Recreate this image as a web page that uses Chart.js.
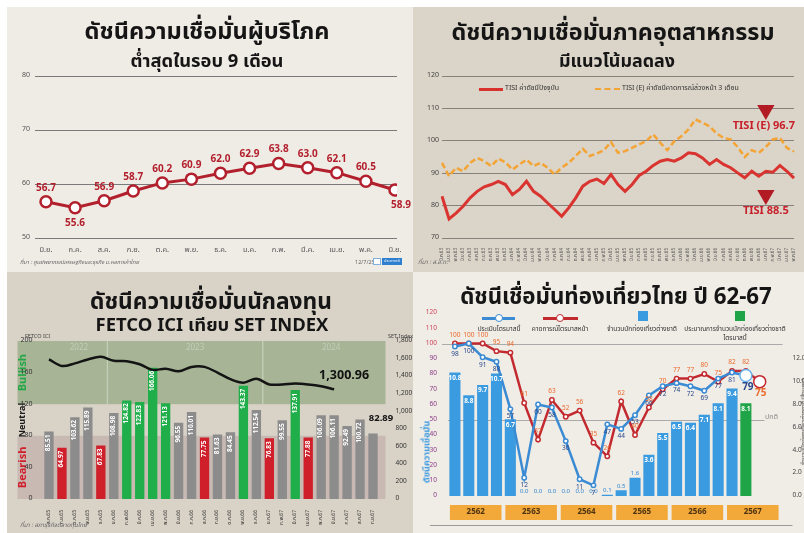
<!DOCTYPE html>
<html><head><meta charset="utf-8">
<script src="https://cdn.jsdelivr.net/npm/chart.js@4.4.1/dist/chart.umd.min.js"></script>
<style>
html,body{margin:0;padding:0;background:#fff;width:804px;height:533px;overflow:hidden;}
body{font-family:"Noto Sans Thai","Noto Sans Thai UI",Loma,Garuda,"Tlwg Typo","Noto Sans","DejaVu Sans",sans-serif;}
.panel{position:absolute;overflow:hidden}
.panel canvas{position:absolute;left:0;top:0}
.tt{position:absolute;white-space:nowrap;font-weight:bold;color:#151515;line-height:1;transform:translate(-50%,-50%)}
.sm{position:absolute;white-space:nowrap;line-height:1;color:#333}
</style></head>
<body>
<div class="panel" id="p1" style="left:7px;top:7px;width:406px;height:265px;background:#efebe5">
 <canvas id="c1" width="406" height="265"></canvas>
 <div class="tt" data-w="245" style="left:200px;top:26px;font-size:26px">ดัชนีความเชื่อมั่นผู้บริโภค</div>
 <div class="tt" data-w="153" style="left:200px;top:55px;font-size:19px">ต่ำสุดในรอบ 9 เดือน</div>
 <div class="sm" style="left:13px;top:253px;font-size:5.5px;font-style:italic;color:#666">ที่มา : ศูนย์พยากรณ์เศรษฐกิจและธุรกิจ ม.หอการค้าไทย</div>
 <div class="sm" style="left:348px;top:253px;font-size:5.5px;color:#666">12/7/2567</div>
 <div style="position:absolute;left:366px;top:251px;width:8px;height:7px;background:#fff;border:1px solid #7fb0e0;box-sizing:border-box"></div>
 <div class="sm" style="left:375px;top:251px;width:20px;height:7px;background:#2f7fd0;color:#fff;font-size:4px;line-height:7px;text-align:center">ประชาชาติ</div>
</div>

<div class="panel" id="p2" style="left:413px;top:7px;width:391px;height:265px;background:#dbd4c9">
 <canvas id="c2" width="391" height="265"></canvas>
 <div class="tt" data-w="323" style="left:200px;top:26px;font-size:26px">ดัชนีความเชื่อมั่นภาคอุตสาหกรรม</div>
 <div class="tt" data-w="116" style="left:204px;top:55px;font-size:19px">มีแนวโน้มลดลง</div>
 <div style="position:absolute;left:66px;top:81px;width:24px;height:3px;background:#d8322f"></div>
 <div class="sm" style="left:92px;top:78px;font-size:7px;color:#333">TISI ค่าดัชนีปัจจุบัน</div>
 <div style="position:absolute;left:182px;top:81px;width:25px;height:0;border-top:2.5px dashed #f3a434"></div>
 <div class="sm" style="left:209px;top:78px;font-size:7px;color:#333">TISI (E) ค่าดัชนีคาดการณ์ล่วงหน้า 3 เดือน</div>
 <div class="sm" style="left:5px;top:253px;font-size:6px;font-style:italic;color:#666">ที่มา : ส.อ.ท.</div>
</div>

<div class="panel" id="p3" style="left:7px;top:272px;width:406px;height:261px;background:#d8d2c7">
 <canvas id="c3" width="406" height="261"></canvas>
 <div class="tt" data-w="242" style="left:204px;top:30px;font-size:26px">ดัชนีความเชื่อมั่นนักลงทุน</div>
 <div class="tt" data-w="233" style="left:205px;top:53px;font-size:19px">FETCO ICI เทียบ SET INDEX</div>
 <div class="sm" style="left:18px;top:62px;font-size:5.5px;color:#444">FETCO ICI</div>
 <div class="sm" style="left:381px;top:62px;font-size:5.5px;color:#444">SET Index</div>
 <div class="sm" style="left:13px;top:251px;font-size:6px;font-style:italic;color:#666">ที่มา : สภาธุรกิจตลาดทุนไทย</div>
</div>

<div class="panel" id="p4" style="left:413px;top:272px;width:391px;height:261px;background:#f0ece6">
 <canvas id="c4" width="391" height="261"></canvas>
 <div class="tt" data-w="312" style="left:203px;top:25px;font-size:26px">ดัชนีเชื่อมั่นท่องเที่ยวไทย ปี 62-67</div>
 <div style="position:absolute;left:69px;top:45px;width:33px;height:2.5px;background:#3a8bd3"></div>
 <div style="position:absolute;left:82px;top:42px;width:8px;height:8px;border-radius:50%;background:#fff;border:1.5px solid #3a8bd3;box-sizing:border-box"></div>
 <div class="sm" style="left:86px;top:57px;font-size:6.5px;transform:translate(-50%,-50%)">ประเมินไตรมาสนี้</div>
 <div style="position:absolute;left:130px;top:45px;width:35px;height:2.5px;background:#c22a30"></div>
 <div style="position:absolute;left:143px;top:42px;width:8px;height:8px;border-radius:50%;background:#fff;border:1.5px solid #c22a30;box-sizing:border-box"></div>
 <div class="sm" style="left:147px;top:57px;font-size:6.5px;transform:translate(-50%,-50%)">คาดการณ์ไตรมาสหน้า</div>
 <div style="position:absolute;left:225px;top:39px;width:10px;height:10px;background:#3b9be0"></div>
 <div class="sm" style="left:229px;top:57px;font-size:6.5px;transform:translate(-50%,-50%)">จำนวนนักท่องเที่ยวต่างชาติ</div>
 <div style="position:absolute;left:322px;top:39px;width:10px;height:10px;background:#1fa548"></div>
 <div class="sm" style="left:322px;top:57px;font-size:6.5px;transform:translate(-50%,-50%)">ประมาณการจำนวนนักท่องเที่ยวต่างชาติ</div>
 <div class="sm" style="left:322px;top:66px;font-size:6.5px;transform:translate(-50%,-50%)">ไตรมาสนี้</div>
 <div class="sm" style="left:14px;top:180px;font-size:9px;font-weight:bold;color:#3d9ae0;transform:translate(-50%,-50%) rotate(-90deg)">ดัชนีความเชื่อมั่น</div>
 <div class="sm" style="left:391px;top:150px;font-size:6px;color:#333;transform:translate(-50%,-50%) rotate(-90deg)">จำนวนนักท่องเที่ยวต่างชาติ (ล้านคน)</div>
</div>

<script>
// ---------------- DATA ----------------
// Consumer confidence (TL)
const ccMonths = ['มิ.ย.','ก.ค.','ส.ค.','ก.ย.','ต.ค.','พ.ย.','ธ.ค.','ม.ค.','ก.พ.','มี.ค.','เม.ย.','พ.ค.','มิ.ย.'];
const ccValues = [56.7,55.6,56.9,58.7,60.2,60.9,62.0,62.9,63.8,63.0,62.1,60.5,58.9];

// Industrial confidence TISI (TR)
const tisiMonths = ['มี.ค.63','เม.ย.63','พ.ค.63','มิ.ย.63','ก.ค.63','ส.ค.63','ก.ย.63','ต.ค.63','พ.ย.63','ธ.ค.63',
 'ม.ค.64','ก.พ.64','มี.ค.64','เม.ย.64','พ.ค.64','มิ.ย.64','ก.ค.64','ส.ค.64','ก.ย.64','ต.ค.64','พ.ย.64','ธ.ค.64',
 'ม.ค.65','ก.พ.65','มี.ค.65','เม.ย.65','พ.ค.65','มิ.ย.65','ก.ค.65','ส.ค.65','ก.ย.65','ต.ค.65','พ.ย.65','ธ.ค.65',
 'ม.ค.66','ก.พ.66','มี.ค.66','เม.ย.66','พ.ค.66','มิ.ย.66','ก.ค.66','ส.ค.66','ก.ย.66','ต.ค.66','พ.ย.66','ธ.ค.66',
 'ม.ค.67','ก.พ.67','มี.ค.67','เม.ย.67','พ.ค.67'];
const tisiCurrent = [82.9,75.9,77.7,79.8,82.4,84.4,85.8,86.5,87.5,86.5,83.4,85.0,87.5,84.4,82.9,80.8,78.8,76.7,79.3,82.4,86.0,87.5,88.2,86.8,89.6,86.5,84.4,86.5,89.3,90.6,92.4,93.7,94.2,93.7,94.7,96.3,96.0,94.7,92.7,94.2,92.7,91.7,90.1,88.6,90.6,89.1,90.6,90.3,92.4,90.6,88.5];
const tisiExpect = [93.2,89.1,91.7,90.6,93.2,94.7,93.7,92.2,94.5,93.4,91.1,92.7,94.2,92.2,93.2,91.7,89.6,91.7,93.2,95.3,97.5,95.3,96.1,97.1,99.6,96.3,96.8,97.8,98.9,99.9,102.0,99.4,97.1,99.9,101.4,103.5,106.6,105.6,104.5,102.3,100.9,100.4,98.1,95.0,97.1,96.3,98.1,100.4,100.9,97.8,96.7];
const tisiMarkIndex = 46;
const tisiMarkValues = [109.5, 83.3];
const tisiMarkTexts = ['TISI (E) 96.7','TISI 88.5'];

// Investor confidence FETCO ICI vs SET (BL)
const iciMonths = ['ส.ค.65','ก.ย.65','ต.ค.65','พ.ย.65','ธ.ค.65','ม.ค.66','ก.พ.66','มี.ค.66','เม.ย.66','พ.ค.66','มิ.ย.66','ก.ค.66','ส.ค.66','ก.ย.66','ต.ค.66','พ.ย.66','ธ.ค.66','ม.ค.67','ก.พ.67','มี.ค.67','เม.ย.67','พ.ค.67','มิ.ย.67','ก.ค.67','ส.ค.67','ก.ย.67'];
const iciValues = [85.51,64.97,103.62,115.89,67.83,108.98,124.82,122.83,166.06,121.13,96.55,110.01,77.75,81.63,84.45,143.37,112.54,76.83,99.55,137.91,77.88,106.09,106.11,92.49,100.72,82.89];
const setValues = [1590,1515,1545,1590,1620,1575,1570,1535,1470,1485,1455,1505,1505,1440,1365,1325,1370,1305,1305,1315,1305,1285,1250];
const setLastText = '1,300.96';
const iciYears = ['2022','2023','2024'];
const iciYearStart = [0,5,17];
const iciZones = ['Bullish','Neutral','Bearish'];

// Tourism confidence (BR)
const tqQuarters = ['Q1','','Q3','','Q1','','Q3','','Q1','','Q3','','Q1','','Q3','','Q1','','Q3','','Q1','Q2','Q3','Q4'];
const tqYears = ['2562','2563','2564','2565','2566','2567'];
const tqCurrent = [98,100,91,88,57,12,60,58,36,11,7,47,44,53,66,72,74,72,69,77,81,79,null,null];
const tqNext = [100,100,100,95,94,61,37,63,52,56,35,26,62,40,58,70,77,77,80,75,82,82,75,null];
const tqTourists = [10.8,8.8,9.7,10.7,6.7,0.0,0.0,0.0,0.0,0.0,0.0,0.1,0.5,1.6,3.6,5.5,6.5,6.4,7.1,8.1,9.4,null,null,null];
const tqForecast = [null,null,null,null,null,null,null,null,null,null,null,null,null,null,null,null,null,null,null,null,null,8.1,null,null];

// ---------------- SETUP ----------------
const FONT = '"Noto Sans Thai","Noto Sans Thai UI",Loma,Garuda,"Tlwg Typo","Noto Sans","DejaVu Sans",sans-serif';
Chart.defaults.font.family = FONT;
Chart.defaults.animation = false;
Chart.defaults.responsive = false;
Chart.defaults.devicePixelRatio = 1;
Chart.defaults.plugins.legend.display = false;
Chart.defaults.plugins.tooltip.enabled = false;

// fit titles to measured widths
document.querySelectorAll('[data-w]').forEach(el => {
  const w = +el.dataset.w, cur = el.getBoundingClientRect().width;
  const fs = parseFloat(getComputedStyle(el).fontSize);
  if (cur > 0) el.style.fontSize = (fs * w / cur) + 'px';
});

const fixW = w => a => { a.width = w; };
const fixH = h => a => { a.height = h; a.paddingLeft = 0; a.paddingRight = 0; };
const lastIdx = arr => { let k = -1; arr.forEach((v,i)=>{ if (v !== null) k = i; }); return k; };

// ---------- Chart 1 ----------
new Chart(document.getElementById('c1'), {
  type: 'line',
  data: { datasets: [{
    data: ccValues.map((v,i)=>({x:i,y:v})),
    borderColor:'#b3202d', borderWidth:3, tension:0,
    pointRadius:5.5, pointBackgroundColor:'#fff', pointBorderColor:'#b3202d', pointBorderWidth:2.5
  }]},
  options: {
    layout:{padding:{top:69,right:16,left:0,bottom:0}},
    scales:{
      x:{type:'linear', min:-0.378, max:12.07, grid:{display:false}, border:{display:false},
         afterBuildTicks:a=>{ a.ticks = ccMonths.map((m,i)=>({value:i})); },
         ticks:{callback:v=>ccMonths[v], font:{size:7.5}, color:'#555', padding:0, maxRotation:0, autoSkip:false},
         afterFit:fixH(34)},
      y:{min:50,max:80, ticks:{stepSize:10, font:{size:7}, color:'#555', padding:5},
         grid:{color:'#7a7a7a', drawTicks:false}, border:{display:false}, afterFit:fixW(28)}
    }
  },
  plugins:[{ id:'ccLabels', afterDatasetsDraw(chart){
    const ctx = chart.ctx, pts = chart.getDatasetMeta(0).data;
    ctx.save(); ctx.font = 'bold 10px ' + FONT; ctx.fillStyle = '#b3202d';
    ctx.textAlign='center'; ctx.textBaseline='middle';
    pts.forEach((p,i)=>{
      const v = ccValues[i], prev = ccValues[i-1], next = ccValues[i+1];
      const below = next === undefined || (prev !== undefined && v < prev && v < next);
      const x = next === undefined ? p.x + 6 : p.x;
      ctx.fillText(v.toFixed(1), x, below ? p.y + 16 : p.y - 13);
    });
    ctx.restore();
  }}]
});

// ---------- Chart 2 ----------
new Chart(document.getElementById('c2'), {
  type:'line',
  data:{ labels: tisiMonths, datasets:[
    { data: tisiCurrent, borderColor:'#da3430', borderWidth:3, pointRadius:0, tension:0 },
    { data: tisiExpect, borderColor:'#f3a434', borderWidth:2.5, borderDash:[6,3], pointRadius:0, tension:0 },
    { data: tisiMonths.map((m,i)=> i===tisiMarkIndex ? tisiMarkValues[0] : null), showLine:false,
      pointStyle:'triangle', rotation:180, pointRadius:10, pointBackgroundColor:'#b31b24', pointBorderColor:'#b31b24', pointBorderWidth:0 },
    { data: tisiMonths.map((m,i)=> i===tisiMarkIndex ? tisiMarkValues[1] : null), showLine:false,
      pointStyle:'triangle', rotation:180, pointRadius:10, pointBackgroundColor:'#b31b24', pointBorderColor:'#b31b24', pointBorderWidth:0 }
  ]},
  options:{
    layout:{padding:{top:69,right:0,left:0,bottom:0}},
    scales:{
      x:{offset:false, grid:{display:false}, border:{display:false},
         ticks:{minRotation:90, maxRotation:90, autoSkip:false, font:{size:4.5}, color:'#555', padding:2},
         afterFit:fixH(34)},
      y:{min:70,max:120, ticks:{stepSize:10, font:{size:7}, color:'#444', padding:3},
         grid:{color:'#86817a', drawTicks:false}, border:{display:false}, afterFit:fixW(29)}
    }
  },
  plugins:[{ id:'tisiLabels', afterDatasetsDraw(chart){
    const ctx = chart.ctx;
    ctx.save(); ctx.font = 'bold 11px ' + FONT; ctx.fillStyle = '#c8202a';
    ctx.textAlign='center'; ctx.textBaseline='middle';
    [2,3].forEach((d,k)=>{
      const p = chart.getDatasetMeta(d).data[tisiMarkIndex];
      ctx.fillText(tisiMarkTexts[k], p.x + (k===0 ? -2 : 0), p.y + 17);
    });
    ctx.restore();
  }}]
});

// ---------- Chart 3 ----------
const iciColor = v => v >= 120 ? '#20ae4a' : (v < 80 ? '#cf1f2b' : '#8c8c8c');
new Chart(document.getElementById('c3'), {
  type:'bar',
  data:{ labels: iciMonths, datasets:[
    { type:'line', data: setValues, yAxisID:'y2', borderColor:'#141414', borderWidth:2.5, pointRadius:0, tension:0.35, order:0 },
    { type:'bar', data: iciValues, yAxisID:'y', backgroundColor: iciValues.map(iciColor), barPercentage:0.72, categoryPercentage:1, order:1 }
  ]},
  options:{
    layout:{padding:{top:69,right:0,left:0,bottom:0}},
    scales:{
      x:{offset:true, grid:{display:false}, border:{display:false},
         ticks:{minRotation:90, maxRotation:90, autoSkip:false, font:{size:5}, color:'#333', padding:3},
         afterFit:fixH(34)},
      y:{position:'left', min:0, max:200, ticks:{stepSize:40, font:{size:7}, color:'#333', padding:2},
         grid:{display:false}, border:{display:false}, afterFit:fixW(35.5)},
      y2:{position:'right', min:0, max:1800, ticks:{stepSize:200, font:{size:6.5}, color:'#333', padding:8,
         callback:v=>v.toLocaleString('en-US')}, grid:{display:false}, border:{display:false}, afterFit:fixW(33.5)}
    }
  },
  plugins:[{ id:'iciDeco',
    beforeDraw(chart){
      const {ctx, chartArea:ca, scales:{x,y}} = chart;
      const L = ca.left - 25, R = ca.right + 6;
      ctx.save();
      ctx.fillStyle = '#a7b596';
      ctx.fillRect(L, y.getPixelForValue(200), R-L, y.getPixelForValue(120)-y.getPixelForValue(200));
      ctx.fillStyle = '#c8b9b3';
      ctx.fillRect(L, y.getPixelForValue(80), R-L, y.getPixelForValue(0)-y.getPixelForValue(80));
      // year dividers and labels
      ctx.strokeStyle = 'rgba(240,240,230,0.55)'; ctx.lineWidth = 1;
      iciYearStart.forEach((s,k)=>{
        if (s > 0) {
          const xd = (x.getPixelForValue(s-1) + x.getPixelForValue(s)) / 2;
          ctx.beginPath(); ctx.moveTo(xd, y.getPixelForValue(200)); ctx.lineTo(xd, y.getPixelForValue(120)); ctx.stroke();
        }
        const e = (k+1 < iciYearStart.length ? iciYearStart[k+1] : iciMonths.length) - 1;
        const xc = (x.getPixelForValue(s) + x.getPixelForValue(e)) / 2 + (k>0 ? 10 : 4);
        ctx.font = '8px ' + FONT; ctx.fillStyle = '#c4ccb7'; ctx.textAlign='center'; ctx.textBaseline='top';
        ctx.fillText(iciYears[k], xc, y.getPixelForValue(200) + 3);
      });
      // zone labels
      const zc = ['#23a746','#1a1a1a','#d1202c'], zv = [160,100,40], zs = [11,9,11];
      ctx.textAlign='center'; ctx.textBaseline='middle';
      iciZones.forEach((z,k)=>{
        ctx.save(); ctx.translate(ca.left - 19, y.getPixelForValue(zv[k])); ctx.rotate(-Math.PI/2);
        ctx.font = 'bold ' + zs[k] + 'px ' + FONT;
        ctx.fillStyle = zc[k]; ctx.fillText(z, 0, 0); ctx.restore();
      });
      ctx.restore();
    },
    afterDatasetsDraw(chart){
      const ctx = chart.ctx, bars = chart.getDatasetMeta(1).data, line = chart.getDatasetMeta(0).data;
      ctx.save();
      ctx.font = 'bold 6.5px ' + FONT; ctx.fillStyle = '#fff'; ctx.textAlign='right'; ctx.textBaseline='middle';
      bars.forEach((b,i)=>{
        if (i === bars.length - 1) return;
        ctx.save(); ctx.translate(b.x, b.y + 3); ctx.rotate(-Math.PI/2);
        ctx.fillText(iciValues[i].toFixed(2), 0, 0); ctx.restore();
      });
      const lb = bars[bars.length-1];
      ctx.font = 'bold 9.5px ' + FONT; ctx.fillStyle = '#111'; ctx.textAlign='center';
      ctx.fillText(iciValues[iciValues.length-1].toFixed(2), lb.x + 8, lb.y - 14);
      const lp = line[setValues.length-1];
      ctx.font = 'bold 12.5px ' + FONT;
      ctx.fillText(setLastText, lp.x + 10, lp.y - 13);
      ctx.restore();
    }
  }]
});

// ---------- Chart 4 ----------
const tqLastCur = lastIdx(tqCurrent), tqLastNext = lastIdx(tqNext);
new Chart(document.getElementById('c4'), {
  type:'bar',
  data:{ labels: tqQuarters, datasets:[
    { type:'line', data:tqCurrent, yAxisID:'y', borderColor:'#3a8bd3', borderWidth:2.5, tension:0, order:0,
      pointRadius:c=> c.dataIndex===tqLastCur ? 6 : 2.2, pointBackgroundColor:'#fff',
      pointBorderColor:c=> c.dataIndex===tqLastCur ? '#6ab4ee' : '#3a8bd3', pointBorderWidth:1.5 },
    { type:'line', data:tqNext, yAxisID:'y', borderColor:'#c22a30', borderWidth:2.5, tension:0, order:0,
      pointRadius:c=> c.dataIndex===tqLastNext ? 6 : 2.2, pointBackgroundColor:'#fff',
      pointBorderColor:'#c22a30', pointBorderWidth:1.5 },
    { type:'bar', data:tqTourists, yAxisID:'y2', backgroundColor:'#3b9be0', barPercentage:0.8, categoryPercentage:1, grouped:false, order:1 },
    { type:'bar', data:tqForecast, yAxisID:'y2', backgroundColor:'#1fa548', barPercentage:0.8, categoryPercentage:1, grouped:false, order:1 }
  ]},
  options:{
    layout:{padding:{top:41,right:0,left:0,bottom:0}},
    scales:{
      x:{offset:true, grid:{display:false}, border:{display:false},
         ticks:{maxRotation:0, autoSkip:false, font:{size:6.5}, color:'#444', padding:1},
         afterFit:fixH(37)},
      y:{position:'left', min:0, max:120, ticks:{stepSize:10, font:{size:6.5}, padding:3,
         color:c=> c.tick && c.tick.value >= 100 ? '#d0445a' : '#8a3a86'},
         grid:{display:false}, border:{display:false}, afterFit:fixW(35)},
      y2:{position:'right', min:0, max:16, ticks:{stepSize:2, font:{size:6.5}, color:'#444', padding:4,
         callback:v=> v <= 12 ? v.toFixed(1) : ''}, grid:{display:false}, border:{display:false}, afterFit:fixW(23.5)}
    }
  },
  plugins:[{ id:'tqDeco',
    beforeDatasetsDraw(chart){
      const {ctx, chartArea:ca, scales:{y}} = chart;
      ctx.save(); ctx.strokeStyle = '#aaa'; ctx.lineWidth = 1;
      let yy = Math.round(y.getPixelForValue(100)) + 0.5;
      ctx.beginPath(); ctx.moveTo(ca.left - 6, yy); ctx.lineTo(ca.right + 2, yy); ctx.stroke();
      yy = Math.round(y.getPixelForValue(50)) + 0.5;
      ctx.beginPath(); ctx.moveTo(ca.left, yy); ctx.lineTo(ca.right - 16, yy); ctx.stroke();
      ctx.font = '7px ' + FONT; ctx.fillStyle = '#8a8a8a'; ctx.textAlign='center'; ctx.textBaseline='bottom';
      ctx.fillText('ปกติ', ca.right - 9, yy + 1);
      ctx.restore();
    },
    afterDatasetsDraw(chart){
      const ctx = chart.ctx;
      ctx.save(); ctx.textAlign='center'; ctx.textBaseline='middle';
      [[2,tqTourists],[3,tqForecast]].forEach(([d,arr])=>{
        chart.getDatasetMeta(d).data.forEach((b,i)=>{
          const v = arr[i]; if (v === null || v === undefined) return;
          if (v >= 3) { ctx.font = 'bold 6.5px ' + FONT; ctx.fillStyle = '#fff'; ctx.fillText(v.toFixed(1), b.x, b.y + 6); }
          else { ctx.font = '6px ' + FONT; ctx.fillStyle = '#2f86d0'; ctx.fillText(v.toFixed(1), b.x, b.y - 4); }
        });
      });
      chart.getDatasetMeta(0).data.forEach((p,i)=>{
        const v = tqCurrent[i]; if (v === null) return;
        if (i === tqLastCur) { ctx.font = 'bold 10px ' + FONT; ctx.fillStyle = '#27468a'; ctx.fillText(v, p.x + 2, p.y + 12); }
        else { ctx.font = '6.5px ' + FONT; ctx.fillStyle = '#27468a'; ctx.fillText(v, p.x, p.y + 8); }
      });
      chart.getDatasetMeta(1).data.forEach((p,i)=>{
        const v = tqNext[i]; if (v === null) return;
        if (i === tqLastNext) { ctx.font = 'bold 10px ' + FONT; ctx.fillStyle = '#ec6a2c'; ctx.fillText(v, p.x + 1, p.y + 12); }
        else { ctx.font = '6.5px ' + FONT; ctx.fillStyle = '#ec6a2c'; ctx.fillText(v, p.x, p.y - 8); }
      });
      ctx.restore();
    },
    afterDraw(chart){
      const {ctx, chartArea:ca, scales:{x}} = chart;
      ctx.save();
      tqYears.forEach((yr,k)=>{
        const x0 = x.getPixelForValue(k*4) - 5, x1 = x.getPixelForValue(k*4+3) + 5;
        ctx.fillStyle = '#f3a83a'; ctx.fillRect(x0, ca.bottom + 9, x1 - x0, 15);
        ctx.font = 'bold 8px ' + FONT; ctx.fillStyle = '#4d3311'; ctx.textAlign='center'; ctx.textBaseline='middle';
        ctx.fillText(yr, (x0+x1)/2, ca.bottom + 16.5);
      });
      ctx.strokeStyle = '#9a9a9a'; ctx.lineWidth = 1;
      const yb = Math.round(ca.bottom + 29) + 0.5;
      ctx.beginPath(); ctx.moveTo(ca.left - 18, yb); ctx.lineTo(ca.right + 12, yb); ctx.stroke();
      ctx.restore();
    }
  }]
});
</script>
</body></html>
